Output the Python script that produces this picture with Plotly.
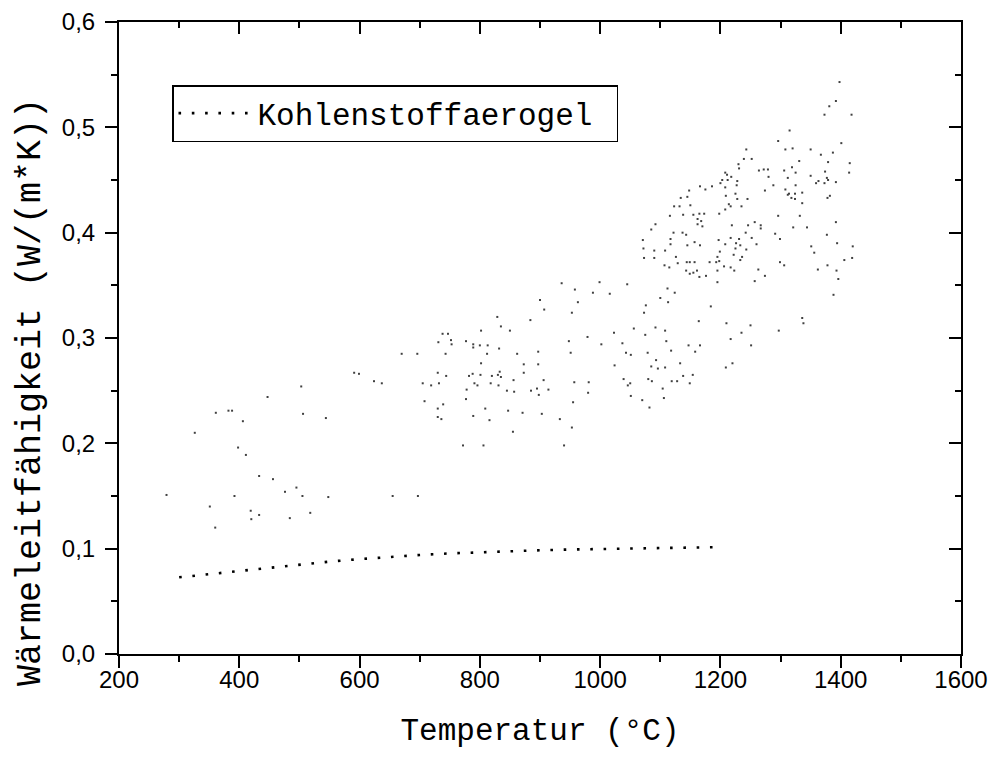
import plotly.graph_objects as go

# Kohlenstoffaerogel curve
temp = [300, 350, 400, 450, 500, 550, 600, 650, 700, 750, 800, 850, 900, 950,
        1000, 1050, 1100, 1150, 1200]
lam = [0.0728, 0.0758, 0.0789, 0.0820, 0.0850, 0.0877, 0.0901, 0.0922, 0.0940,
       0.0955, 0.0967, 0.0977, 0.0985, 0.0992, 0.0998, 0.1003, 0.1007, 0.1011, 0.1015]

# faint scanned specks visible in the picture (read approximately)
speck_temp = [
    503, 447, 361, 382, 388, 406, 506, 544, 326, 398, 411, 433, 456, 279, 392, 476, 495, 505, 548, 655,
    697, 351, 419, 433, 420, 484, 518, 360, 624, 637, 705, 719, 732, 708, 739, 730, 730, 736,
    670, 696, 591, 599,
    936, 999, 1045, 958, 988, 1016, 1112, 1124, 1100, 900, 963, 1113, 1076, 907, 953, 1073, 829, 884, 835, 802,
    850, 1056, 1092, 1108, 738, 747, 1023, 1075, 752, 731, 753, 777, 789, 800, 813, 789, 948, 979, 1002, 1037,
    1110, 832, 743, 812, 862, 897, 951, 1043, 1051, 1079, 1118, 802, 873, 897, 1024, 1093, 1085, 1096, 1108, 833,
    730, 788, 801, 830, 873, 744, 782, 820, 835, 791, 796, 818, 831, 856, 906, 957, 981, 1039, 1050, 1046,
    1080, 1086, 1119, 1128, 778, 845, 857, 885, 895, 914, 980, 1104, 898, 777, 955, 1051, 1070, 1106, 809, 1082,
    847, 871, 903, 789, 816, 933, 953, 855, 772, 806, 940,
    1123, 1132, 1150, 1214, 1217, 1235, 1116, 1138, 1155, 1165, 1173, 1198, 1208, 1296, 1332, 1162, 1168, 1092,
    1162, 1170, 1219, 1246, 1257, 1267, 1267, 1321, 1344, 1085, 1122, 1137, 1143, 1242, 1291, 1377, 1117, 1071,
    1197, 1217, 1231, 1252, 1299, 1157, 1117, 1145, 1166, 1208, 1226, 1233, 1260, 1351, 1394, 1072, 1090, 1108,
    1225, 1243, 1199, 1222, 1356, 1073, 1090, 1126, 1195, 1236, 1198, 1233, 1107, 1129, 1144, 1149, 1157, 1182,
    1193, 1206, 1299, 1306, 1378, 1115, 1217, 1143, 1149, 1155, 1161, 1165, 1176, 1195, 1223, 1263, 1362, 1393,
    1274, 1195, 1257, 1388, 1184, 1336, 1338, 1164, 1210, 1250, 1297, 1235, 1217, 1147, 1166, 1251, 1158, 1133,
    1220, 1209, 1138, 1154, 1149,
    1398, 1392, 1381, 1373, 1418, 1315, 1401, 1320, 1350, 1387, 1367, 1331, 1379, 1415, 1319, 1325, 1374, 1414,
    1350, 1377, 1379, 1363, 1359, 1373, 1392, 1325, 1336, 1314, 1324, 1382, 1378, 1318, 1324, 1336, 1392, 1420,
    1419, 1406, 1396,
    1296, 1308, 1243, 1239, 1252, 1230, 1231, 1264, 1272, 1279, 1306, 1208, 1211, 1218, 1280, 1312, 1203, 1212,
    1228, 1200, 1208, 1227, 1274, 1288, 1308, 1175, 1166, 1186, 1148, 1225, 1209, 1228, 1245, 1312, 1134, 1145,
]
speck_val = [
    .254, .244, .229, .231, .231, .221, .228, .224, .210, .196, .189, .169, .166, .151, .150, .154, .158, .150, .149, .150,
    .150, .140, .136, .132, .128, .129, .134, .120, .259, .257, .257, .255, .257, .240, .237, .233, .225, .223,
    .285, .285, .267, .266,
    .352, .353, .351, .346, .343, .342, .347, .343, .338, .336, .334, .334, .331, .327, .324, .324, .320, .317, .311, .307,
    .307, .309, .310, .307, .304, .304, .305, .303, .298, .296, .294, .297, .294, .293, .293, .291, .297, .301, .294, .295,
    .297, .290, .285, .285, .285, .287, .286, .286, .284, .286, .288, .276, .275, .275, .274, .279, .273, .271, .272, .268,
    .267, .266, .265, .265, .267, .264, .264, .264, .263, .257, .255, .257, .255, .260, .260, .258, .258, .261, .257, .255,
    .261, .259, .259, .259, .251, .250, .249, .250, .252, .251, .248, .252, .246, .242, .239, .245, .241, .243, .233, .234,
    .231, .229, .228, .226, .222, .223, .215, .211, .198, .198, .198,
    .425, .425, .426, .427, .425, .425, .416, .417, .417, .418, .418, .418, .422, .416, .416, .413, .411, .408,
    .408, .406, .407, .407, .410, .407, .404, .405, .405, .403, .400, .400, .398, .400, .399, .398, .394, .393,
    .393, .395, .394, .395, .394, .391, .389, .388, .388, .389, .390, .388, .389, .387, .390, .385, .383, .383,
    .385, .384, .382, .379, .381, .376, .376, .377, .377, .377, .373, .374, .369, .371, .372, .372, .372, .372,
    .372, .368, .372, .369, .369, .367, .367, .364, .361, .362, .364, .358, .359, .364, .364, .365, .365, .364,
    .359, .353, .354, .341, .330, .319, .314, .316, .314, .312, .307, .305, .299, .293, .293, .293, .287, .276,
    .276, .272, .264, .265, .257,
    .543, .525, .520, .512, .512, .497, .485, .480, .479, .476, .474, .468, .467, .466, .462, .457, .458, .457,
    .454, .452, .450, .449, .447, .447, .448, .445, .438, .437, .437, .435, .433, .433, .432, .428, .410, .387,
    .376, .374, .356,
    .487, .479, .479, .470, .470, .465, .461, .459, .460, .460, .459, .457, .455, .453, .453, .452, .450, .450,
    .449, .447, .443, .445, .440, .445, .441, .441, .444, .444, .440, .437, .435, .432, .432, .436, .433, .434,
]

x_ticks = [200, 400, 600, 800, 1000, 1200, 1400, 1600]
y_ticks = [0.0, 0.1, 0.2, 0.3, 0.4, 0.5, 0.6]
x_title = "Temperatur (°C)"
y_title = "Wärmeleitfähigkeit (W/(m*K))"

MONO = "Courier New, Liberation Mono, monospace"
SANS = "Arial, Liberation Sans, sans-serif"

fig = go.Figure()
fig.add_trace(go.Scatter(
    x=speck_temp, y=speck_val, mode="markers", showlegend=False, hoverinfo="skip",
    marker=dict(symbol="square", size=2, color="#404040", line=dict(width=0)),
))
fig.add_trace(go.Scatter(
    x=temp, y=lam, mode="lines", name="Kohlenstoffaerogel\u00a0",
    line=dict(color="black", width=2.6, dash="2.6px,10.7px"),
))

axis_common = dict(showline=True, linecolor="black", linewidth=2, showgrid=False,
                   zeroline=False, tickcolor="black", tickwidth=2)

# page body adds an 8 px offset; keep the figure inside the window (no scrollbars)
OFF = 8
W, H = 980, 741
L = 119 - OFF
T = 22 - OFF
R = W - (961 - OFF)
B = H - (654 - OFF)
plot_w = W - L - R
plot_h = H - T - B

fig.update_layout(
    width=W, height=H,
    margin=dict(l=L, r=R, t=T, b=B, autoexpand=False),
    paper_bgcolor="white", plot_bgcolor="white",
    separators=",.",
    showlegend=True,
    legend=dict(
        x=(172 - 119) / plot_w, y=1 - (85 - 22) / plot_h, xanchor="left", yanchor="top",
        bgcolor="white", bordercolor="black", borderwidth=1.5,
        font=dict(family=MONO, size=31, color="black"),
        itemwidth=74,
    ),
    xaxis=dict(
        range=[200, 1600], tickvals=x_ticks, ticks="outside", ticklen=12,
        ticklabelstandoff=-9,
        minor=dict(ticks="outside", ticklen=6, dtick=100, tickwidth=2, tickcolor="black"),
        tickfont=dict(family=SANS, size=24, color="black"),
        title=dict(text=x_title, font=dict(family=MONO, size=31, color="black"), standoff=44),
        **axis_common,
    ),
    yaxis=dict(
        range=[0, 0.6], tickvals=y_ticks, tickformat=".1f", ticks="outside", ticklen=12,
        ticklabelstandoff=5,
        minor=dict(ticks="outside", ticklen=6, dtick=0.05, tickwidth=2, tickcolor="black"),
        tickfont=dict(family=SANS, size=24, color="black"),
        **axis_common,
    ),
    xaxis2=dict(
        overlaying="x", side="top", range=[200, 1600], tickvals=x_ticks, ticks="inside", ticklen=12,
        minor=dict(ticks="inside", ticklen=6, dtick=100, tickwidth=2, tickcolor="black"),
        showticklabels=False, **axis_common,
    ),
    yaxis2=dict(
        overlaying="y", side="right", range=[0, 0.6], tickvals=y_ticks, ticks="inside", ticklen=12,
        minor=dict(ticks="inside", ticklen=6, dtick=0.05, tickwidth=2, tickcolor="black"),
        showticklabels=False, **axis_common,
    ),
    annotations=[dict(
        text=y_title, textangle=-90, showarrow=False,
        xref="paper", yref="paper", xanchor="center", yanchor="middle",
        x=(31 - 119) / plot_w, y=(654 - 392) / plot_h,
        font=dict(family=MONO, size=35, color="black"),
    )],
)
# invisible trace so that the mirrored axes render
fig.add_trace(go.Scatter(x=[None], y=[None], xaxis="x2", yaxis="y2", showlegend=False, hoverinfo="skip"))

fig.write_html("out.html")
